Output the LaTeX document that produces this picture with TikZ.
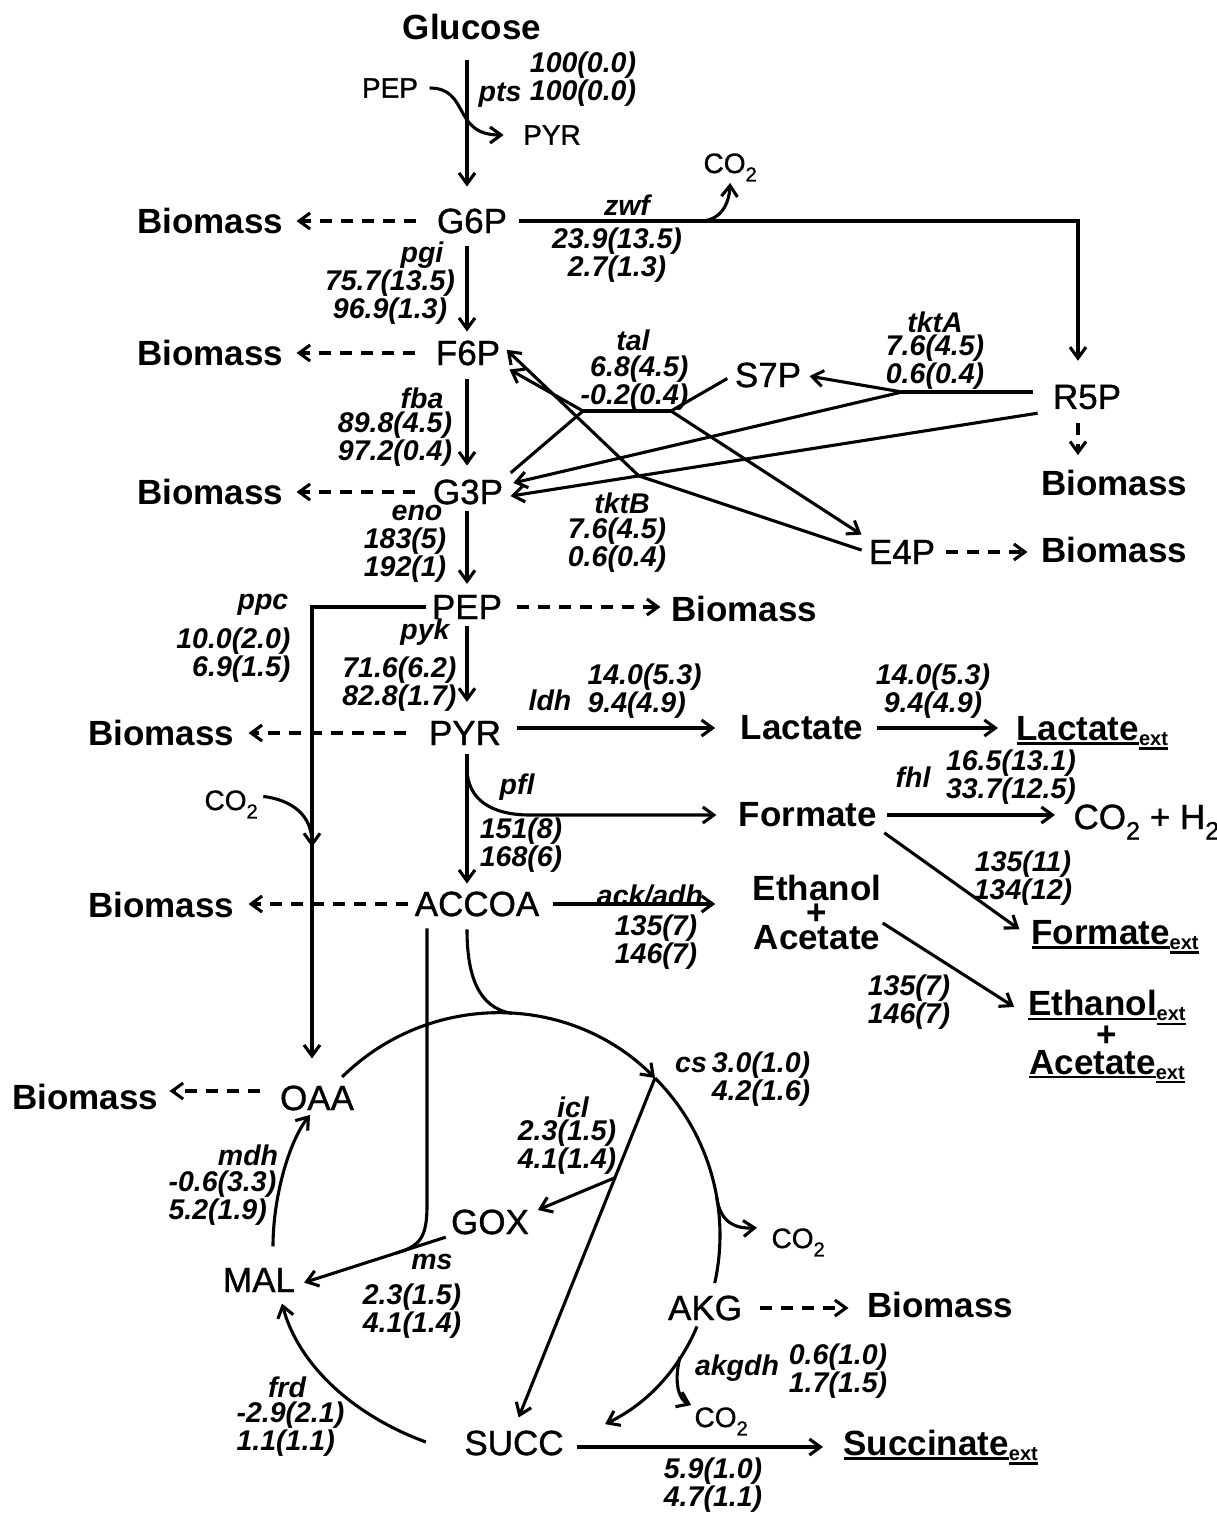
\documentclass[tikz,border=0pt]{standalone}
\usepackage{fontspec}
\setmainfont{Liberation Sans}
\newfontfamily\medsans{Liberation Sans}[FakeBold=1]
\usepackage{graphicx}
\usetikzlibrary{arrows.meta,calc}
\newsavebox\myulbox
\newcommand\myul[1]{\sbox\myulbox{#1}\rlap{\rule[-4pt]{\wd\myulbox}{2.4pt}}\usebox\myulbox}
\newcommand\myext[1]{\myul{#1}\raisebox{-5pt}{\fontsize{20}{20}\selectfont\myul{ext}}}
\newcommand\mysub[1]{\raisebox{-0.3em}{\scalebox{0.72}{#1}}}
\begin{document}
\begin{tikzpicture}[x=1pt,y=1pt,line width=3.1pt,
  >={Straight Barb[length=11pt,width=16pt]},
  met/.style={font=\fontsize{35}{35}\medsans,inner sep=0pt},
  bmet/.style={font=\fontsize{35}{35}\selectfont\bfseries,inner sep=0pt},
  sm/.style={font=\fontsize{28}{28}\medsans,inner sep=0pt},
  num/.style={font=\fontsize{28.5}{28.5}\selectfont\bfseries\itshape,inner sep=0pt,align=center},
  dsh/.style={dash pattern=on 12pt off 9pt},
  sh/.style 2 args={shorten <=#1pt,shorten >=#2pt}]
\useasboundingbox (0,0) rectangle (1217,-1513);
\coordinate (spine) at (467,0);
% ---------- metabolites
\node[bmet] (Glc) at (472,-27) {Glucose};
\node[sm] (pPEP) at (390,-88) {PEP};
\node[sm] (pPYR) at (552,-135) {PYR};
\node[met] (G6P) at (472,-221) {G6P};
\node[bmet] (bG6P) at (210,-221) {Biomass};
\node[met] (F6P) at (468,-353) {F6P};
\node[bmet] (bF6P) at (210,-353) {Biomass};
\node[met] (G3P) at (468,-492) {G3P};
\node[bmet] (bG3P) at (210,-492) {Biomass};
\node[met] (PEP) at (467,-607) {PEP};
\node[bmet] (bPEP) at (744,-609) {Biomass};
\node[met] (PYR) at (465,-733) {PYR};
\node[bmet] (bPYR) at (161,-733) {Biomass};
\node[met] (ACCOA) at (477,-904) {ACCOA};
\node[bmet] (bACCOA) at (161,-905) {Biomass};
\node[bmet] (Lac) at (802,-728) {Lactate};
\node[bmet,anchor=base west] (LacX) at (1015,-740.5) {\myext{Lactate}};
\node[bmet] (For) at (808,-815) {Formate};
\node[met,anchor=base west] (CH) at (1072,-829) {CO\mysub{2} + H\mysub{2}};
\node[bmet,anchor=base west] (ForX) at (1030,-944.5) {\myext{Formate}};
\node[bmet,align=center,font=\fontsize{35}{24.5}\selectfont\bfseries] (EA) at (817,-912) {Ethanol\\+\\Acetate};
\node[bmet,align=center,font=\fontsize{35}{28}\selectfont\bfseries] (EAX) at (1107,-1037) {\myext{Ethanol}\\+\\\myext{Acetate}};
\node[met] (OAA) at (317,-1098) {OAA};
\node[bmet] (bOAA) at (85,-1097) {Biomass};
\node[met] (MAL) at (259,-1280) {MAL};
\node[met] (GOX) at (490,-1222) {GOX};
\node[met] (SUCC) at (514,-1443) {SUCC};
\node[met] (AKG) at (705,-1308) {AKG};
\node[bmet] (bAKG) at (940,-1305) {Biomass};
\node[bmet,anchor=base west] (SucX) at (842,-1455.5) {\myext{Succinate}};
\node[met] (S7P) at (768,-375) {S7P};
\node[met] (R5P) at (1087,-397) {R5P};
\node[bmet] (bR5P) at (1114,-483) {Biomass};
\node[met] (E4P) at (902,-552) {E4P};
\node[bmet] (bE4P) at (1114,-550) {Biomass};
\node[sm,anchor=base west] (co2a) at (702,-173) {CO\mysub{2}};
\node[sm,anchor=base west] (co2b) at (203,-810) {CO\mysub{2}};
\node[sm,anchor=base west] (co2c) at (770,-1248) {CO\mysub{2}};
\node[sm,anchor=base west] (co2d) at (693,-1427) {CO\mysub{2}};
% ---------- glycolysis
\draw[->,sh={18.5}{20.5}] (spine |- Glc.south) -- (spine |- G6P.north);
\draw[->,sh={10}{18}] (pPEP.east) .. controls (470,-88) and (452,-135) .. (pPYR.west);
\draw[->,dsh,sh={19}{12}] (G6P.west) -- (bG6P.east);
\coordinate (zw) at (1078,-221);
\coordinate (zwbr) at (700,-221);
\draw[->,sh={10}{22.5}] (G6P.east) -- (zw) -- (zw |- R5P.north);
\draw[->] (zwbr) .. controls (720,-221) and (729,-205) .. (co2a.south);
\draw[->,sh={11.5}{7.5}] (spine |- G6P.south) -- (spine |- F6P.north);
\draw[->,dsh,sh={19}{12}] (F6P.west) -- (bF6P.east);
\draw[->,sh={12.5}{12.5}] (spine |- F6P.south) -- (spine |- G3P.north);
\draw[->,dsh,sh={16}{12}] (G3P.west) -- (bG3P.east);
\draw[->,sh={5.5}{9.5}] (spine |- G3P.south) -- (spine |- PEP.north);
\draw[->,dsh,sh={13}{9}] (PEP.east) -- (PEP.east -| bPEP.west);
\coordinate (ppcx) at (312,-607);
\coordinate (ppcin) at (312,-847);
\draw[->,sh={4}{25.5}] (PEP.west) -- (ppcx) -- (ppcx |- OAA.north);
\draw[->] ($(co2b.east)+(4,8)$) .. controls (292,-800) and (312,-815) .. (ppcin);
\draw[->,sh={5.5}{17.5}] (spine |- PEP.south) -- (spine |- PYR.north);
\draw[->,dsh,sh={21}{13}] (PYR.west) -- (bPYR.east);
\draw[->,sh={14}{24}] (PYR.east |- Lac.west) -- (Lac.west);
\draw[->,sh={12}{17}] (Lac.east) -- (Lac.east -| LacX.west);
\coordinate (pflst) at (467,-768);
\draw[->,sh={0}{21}] (pflst) .. controls (467,-800) and (492,-815) .. (530,-815) -- (For.west);
\draw[->,sh={7.5}{6.5}] (spine |- PYR.south) -- (spine |- ACCOA.north);
\draw[->,sh={8}{17}] (For.east) -- (For.east -| CH.west);
\draw[->,sh={7}{13}] (For.south east) -- (ForX.west);
\draw[->,dsh,sh={5}{13}] (ACCOA.west) -- (ACCOA.west -| bACCOA.east);
\draw[->,sh={12}{36}] (ACCOA.east) -- (ACCOA.east -| EA.west);
\draw[->,sh={0}{15}] ([yshift=-11pt]EA.east) -- ([yshift=22pt]EAX.west);
% ---------- TCA / glyoxylate
\coordinate (accl) at (427,0);
\coordinate (tcaC) at (498,-1235);
\coordinate (cyctop) at (512,-1013.4);
\coordinate (oaaA) at ($(tcaC)+(134.6:222)$);
\coordinate (csP) at ($(tcaC)+(45:222)$);
\coordinate (cycB) at ($(tcaC)+(9.8:222)$);
\coordinate (malE) at ($(MAL.east)+(0,-5)$);
\coordinate (msj) at ($(GOX.south west)!0.35!(malE)$);
\draw[->] (oaaA) arc[start angle=134.6,end angle=45,radius=222];
\draw (csP) arc[start angle=45,end angle=-12.5,radius=222];
\draw[sh={10.5}{0}] (accl |- ACCOA.south) -- (427,-1205) .. controls (427,-1238) and (420,-1246) .. (msj);
\draw[sh={11.5}{0}] (spine |- ACCOA.south) .. controls (467,-975) and (478,-1008) .. (cyctop);
\draw[->,sh={0}{13}] (cycB) .. controls (720,-1222) and (735,-1229) .. (co2c.north west);
\draw[->,sh={0}{12.5}] (csP) -- (SUCC.north);
\coordinate (iclbr) at ($(csP)!0.284!(SUCC.north)$);
\draw[->,sh={0}{8}] (iclbr) -- ([yshift=9pt]GOX.east);
\draw[->,sh={4}{8}] (GOX.south west) -- (malE);
\draw[->] ($(MAL.north)+(14,20)$) .. controls (273,-1195) and (290,-1140) .. ($(OAA.south)+(-7,-3)$);
\draw[->] ($(SUCC.west)+(-37,1)$) .. controls (360,-1418) and (300,-1370) .. ($(MAL.south)+(23,-10)$);
\coordinate (akgB) at (680,-1357);
\draw[->] ($(AKG.south)+(-8,-4.5)$) .. controls (683,-1360) and (655,-1400) .. ($(SUCC.north east)+(40,5)$);
\draw[->,sh={0}{2}] (akgB) .. controls (673,-1385) and (680,-1400) .. (co2d.north west);
\draw[->,sh={11.5}{19}] ([yshift=-4pt]SUCC.east) -- ([yshift=-4pt]SUCC.east -| SucX.west);
\draw[->,dsh,sh={16}{17}] (AKG.east) -- (AKG.east -| bAKG.west);
\draw[->,dsh,sh={18}{10}] ([yshift=7pt]OAA.west) -- ([yshift=7pt]OAA.west -| bOAA.east);
% ---------- pentose phosphate
\coordinate (tA) at (902,-392);
\draw[sh={18}{0}] (R5P.west |- tA) -- (tA);
\draw[->,sh={0}{7}] (tA) -- (S7P.east);
\draw[->,sh={0}{9}] (tA) -- ([yshift=7pt]G3P.east);
\coordinate (r5pL) at ([yshift=-14pt]R5P.west);
\coordinate (g3pL) at ([yshift=-5pt]G3P.east);
\draw[->,sh={14}{6}] (r5pL) -- (g3pL);
\coordinate (tB) at ($(r5pL)!0.7545!(g3pL)$);
\draw[->,sh={6}{7}] (E4P.west) -- (tB) -- ([yshift=8pt]F6P.east);
\coordinate (tL) at (583,-411);
\coordinate (tR) at (671,-411);
\draw (tL) -- (tR);
\draw[->,sh={8}{9}] (G3P.north east) -- (tL) -- ([yshift=-12pt]F6P.east);
\draw[->,sh={7}{7}] (S7P.west) -- (tR) -- (E4P.north west);
\draw[->,dsh,sh={12.5}{13.5}] (zw |- R5P.south) -- (zw |- bR5P.north);
\draw[->,dsh,sh={9}{12}] (E4P.east) -- (E4P.east -| bE4P.west);
% ---------- labels
\node[num] (lpts) at (500,-95) {pts};
\node[num] (vpts) at (583,-79) {100(0.0)\\100(0.0)};
\node[num] (lzwf) at (627,-205) {zwf};
\node[num] (vzwf) at (617,-255) {23.9(13.5)\\2.7(1.3)};
\node[num] (lpgi) at (422,-255) {pgi};
\node[num] (vpgi) at (390,-297) {75.7(13.5)\\96.9(1.3)};
\node[num] (lfba) at (422,-398) {fba};
\node[num] (vfba) at (395,-439) {89.8(4.5)\\97.2(0.4)};
\node[num] (leno) at (417,-513) {eno};
\node[num] (veno) at (405,-555) {183(5)\\192(1)};
\node[num] (lppc) at (263,-605) {ppc};
\node[num,anchor=east,align=right] (vppc) at (292,-655) {10.0(2.0)\\6.9(1.5)};
\node[num] (lpyk) at (425,-632) {pyk};
\node[num,anchor=east,align=right] (vpyk) at (458,-684) {71.6(6.2)\\82.8(1.7)};
\node[num] (lldh) at (550,-700) {ldh};
\node[num,anchor=west,align=left] (vldh) at (586,-691) {14.0(5.3)\\9.4(4.9)};
\node[num] (vlac) at (933,-691) {14.0(5.3)\\9.4(4.9)};
\node[num] (lpfl) at (517,-787) {pfl};
\node[num] (vpfl) at (521,-845) {151(8)\\168(6)};
\node[num] (lfhl) at (913,-777) {fhl};
\node[num] (vfhl) at (1011,-777) {16.5(13.1)\\33.7(12.5)};
\node[num] (vfor) at (1023,-878) {135(11)\\134(12)};
\node[num] (lack) at (650,-895) {ack/adh};
\node[num] (vack) at (656,-942) {135(7)\\146(7)};
\node[num] (vea) at (909,-1002) {135(7)\\146(7)};
\node[num] (ltal) at (633,-340) {tal};
\node[num,anchor=east,align=right] (vtal) at (690,-383) {6.8(4.5)\\-0.2(0.4)};
\node[num] (ltkA) at (935,-322) {tktA};
\node[num] (vtkA) at (935,-362) {7.6(4.5)\\0.6(0.4)};
\node[num] (ltkB) at (622,-503) {tktB};
\node[num] (vtkB) at (617,-545) {7.6(4.5)\\0.6(0.4)};
\node[num] (lcs) at (691,-1065) {cs};
\node[num] (vcs) at (761,-1079) {3.0(1.0)\\4.2(1.6)};
\node[num] (licl) at (573,-1107) {icl};
\node[num] (vicl) at (567,-1147) {2.3(1.5)\\4.1(1.4)};
\node[num] (lms) at (432,-1262) {ms};
\node[num] (vms) at (412,-1311) {2.3(1.5)\\4.1(1.4)};
\node[num] (lmdh) at (248,-1155) {mdh};
\node[num,anchor=west,align=left] (vmdh) at (167,-1198) {-0.6(3.3)\\5.2(1.9)};
\node[num] (lfrd) at (287,-1387) {frd};
\node[num,anchor=west,align=left] (vfrd) at (235,-1429) {-2.9(2.1)\\1.1(1.1)};
\node[num] (lakg) at (737,-1368) {akgdh};
\node[num] (vakg) at (838,-1371) {0.6(1.0)\\1.7(1.5)};
\node[num] (vsuc) at (713,-1485) {5.9(1.0)\\4.7(1.1)};
\end{tikzpicture}
\end{document}
